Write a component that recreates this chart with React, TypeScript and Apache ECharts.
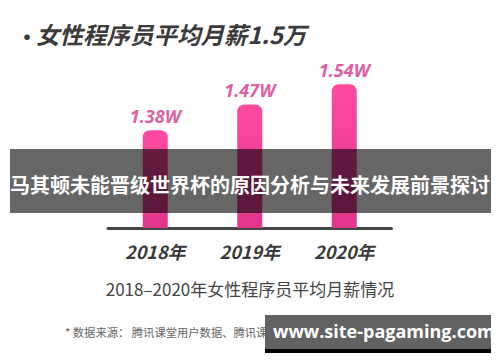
import React, { useEffect, useRef } from "react";
import * as echarts from "echarts";

const categories = ["2018年", "2019年", "2020年"];
const salaries = [1.38, 1.47, 1.54];
const valueLabels = ["1.38W", "1.47W", "1.54W"];
const titleText = "女性程序员平均月薪1.5万";
const bannerText = "马其顿未能晋级世界杯的原因分析与未来发展前景探讨";
const captionText = "2018–2020年女性程序员平均月薪情况";
const footnoteText = "* 数据来源： 腾讯课堂用户数据、腾讯课堂问卷调研数据、猎聘用户数据";
const watermarkText = "www.site-pagaming.com";

const CJK = '"Noto Sans CJK SC", "Noto Sans", sans-serif';

export default function App() {
  const ref = useRef<HTMLDivElement>(null);
  useEffect(() => {
    if (!ref.current) return;
    const chart = echarts.init(ref.current, null, { renderer: "svg" });
    chart.setOption({
      animation: false,
      backgroundColor: "#ffffff",
      grid: { left: 108, width: 283.5, top: 67, bottom: 134 },
      xAxis: {
        type: "category",
        data: categories,
        axisLine: { lineStyle: { color: "#454545", width: 3 } },
        axisTick: { show: false },
        axisLabel: {
          margin: 14,
          fontSize: 18,
          fontStyle: "italic",
          fontWeight: "bold",
          color: "#3a3a3a",
          fontFamily: CJK,
        },
      },
      yAxis: {
        type: "value",
        min: 1.04,
        max: 1.6,
        show: false,
        splitLine: { show: false },
      },
      series: [
        {
          type: "bar",
          data: salaries,
          barWidth: 25,
          itemStyle: {
            borderRadius: [7, 7, 0, 0],
            color: new echarts.graphic.LinearGradient(0, 0, 0, 1, [
              { offset: 0, color: "#ff4aa0" },
              { offset: 1, color: "#e0358c" },
            ]),
          },
          label: {
            show: true,
            position: "top",
            distance: 5,
            formatter: (p: any) => valueLabels[p.dataIndex],
            fontSize: 18,
            fontStyle: "italic",
            fontWeight: "bold",
            color: "#de5fa6",
            fontFamily: '"Noto Sans", sans-serif',
          },
        },
      ],
      graphic: [
        {
          type: "text",
          left: 16,
          top: 24,
          style: { text: "•", fontSize: 22, fontWeight: "bold", fill: "#3b3b3b", fontFamily: CJK },
        },
        {
          type: "text",
          left: 36,
          top: 22,
          style: {
            text: titleText,
            fontSize: 23.5,
            fontWeight: "bold",
            fontStyle: "italic",
            fill: "#3b3b3b",
            fontFamily: CJK,
          },
        },
        {
          type: "text",
          left: "center",
          top: 280,
          style: { text: captionText, fontSize: 17, fill: "#444444", fontFamily: CJK },
        },
        {
          type: "text",
          left: 65,
          top: 326,
          style: { text: footnoteText, fontSize: 11.3, fill: "#666666", fontFamily: CJK },
        },
        {
          type: "rect",
          z: 100,
          shape: { x: 10, y: 149, width: 481, height: 64 },
          style: { fill: "rgba(0,0,0,0.6)" },
        },
        {
          type: "text",
          z: 101,
          left: "center",
          top: 174,
          style: {
            text: bannerText,
            fontSize: 20,
            fontWeight: "bold",
            fill: "#ffffff",
            fontFamily: CJK,
          },
        },
        {
          type: "rect",
          z: 100,
          shape: { x: 265, y: 315, width: 226, height: 34 },
          style: { fill: "#626262" },
        },
        {
          type: "rect",
          z: 100,
          shape: { x: 265, y: 349, width: 226, height: 4 },
          style: { fill: "#000000" },
        },
        {
          type: "text",
          z: 101,
          left: 273,
          top: 322,
          style: {
            text: watermarkText,
            fontSize: 18,
            fontWeight: "bold",
            fill: "#ffffff",
            fontFamily: '"Open Sans", sans-serif',
          },
        },
      ],
    });
    return () => chart.dispose();
  }, []);
  return (
    <div
      ref={ref}
      style={{ position: "fixed", left: 0, top: 0, width: 500, height: 362 }}
    />
  );
}
